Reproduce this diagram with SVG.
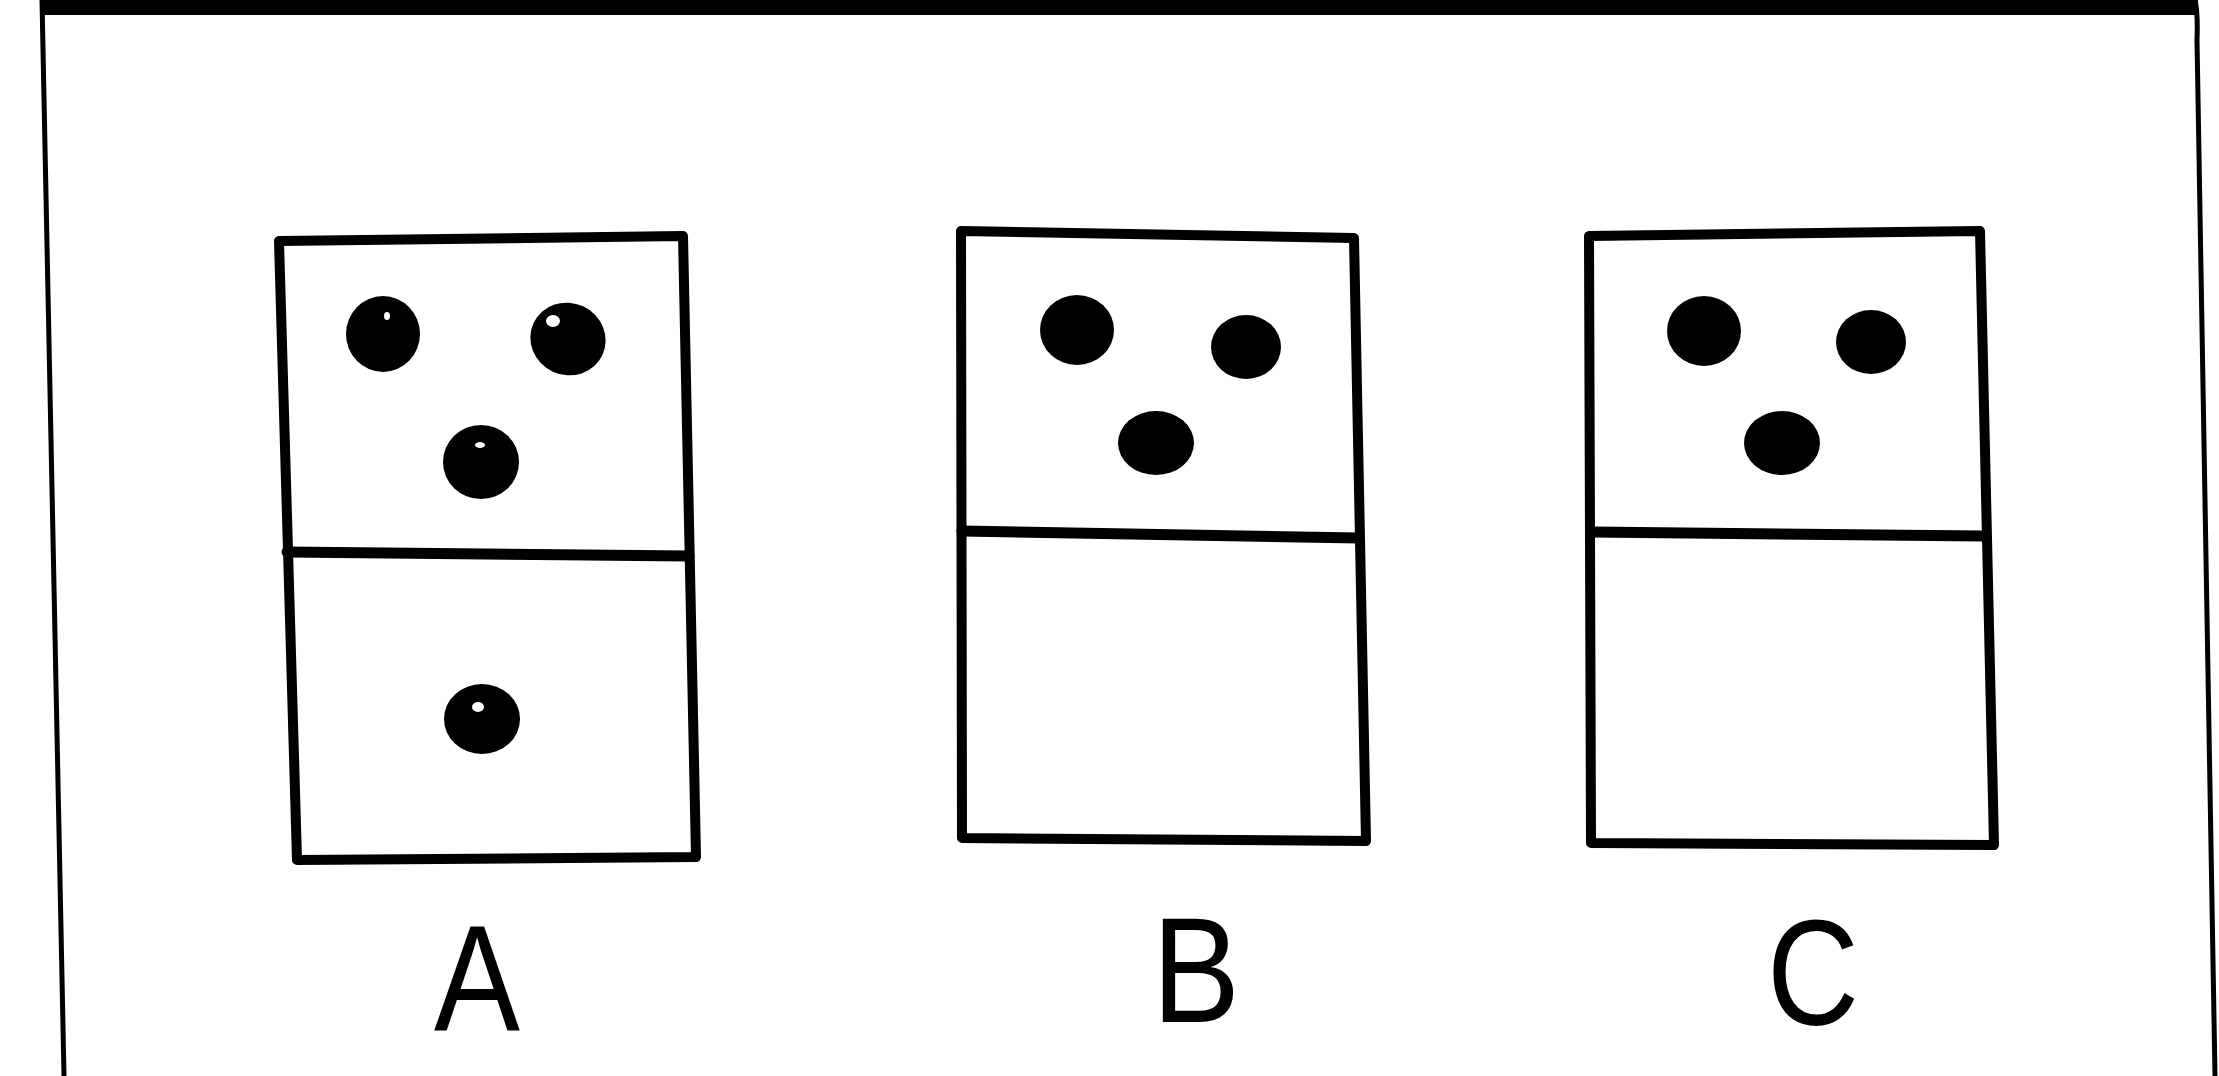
<svg xmlns="http://www.w3.org/2000/svg" width="2219" height="1076" viewBox="0 0 2219 1076">
<style>
.tile{fill:none;stroke:#000;stroke-width:10;stroke-linejoin:round;stroke-linecap:round}
.div{fill:none;stroke:#000;stroke-width:11;stroke-linecap:round}
.pip{fill:#000}
.spec{fill:#fff}
.frame{fill:none;stroke:#000;stroke-width:5}
.lbl{font-family:"Liberation Sans",Arial,sans-serif;font-size:150px;fill:#000;text-anchor:middle}
</style>
<rect x="0" y="0" width="2219" height="1076" fill="#fff"/>
<g id="frame">
<rect x="40" y="0" width="2158" height="15" fill="#000"/>
<path class="frame" d="M42,0 L64,1076"/>
<path class="frame" d="M2195,0 Q2198,12 2197,40 L2215,1076"/>
</g>
<g id="domino-A">
<path class="tile" d="M279,241 L683,236 L696,857 L297,860 Z"/>
<path class="div" d="M287,552 L689,556"/>
<ellipse class="pip" cx="383" cy="334" rx="37" ry="38"/>
<ellipse class="pip" cx="568" cy="339" rx="38" ry="36" transform="rotate(25 568 339)"/>
<ellipse class="pip" cx="481" cy="462" rx="38" ry="37"/>
<ellipse class="pip" cx="482" cy="719" rx="38" ry="35"/>
<ellipse class="spec" cx="387" cy="316" rx="3" ry="4"/>
<ellipse class="spec" cx="553" cy="321" rx="7" ry="6"/>
<ellipse class="spec" cx="480" cy="445" rx="5" ry="3"/>
<ellipse class="spec" cx="478" cy="707" rx="6" ry="5"/>
</g>
<g id="domino-B">
<path class="tile" d="M961,231 L1354,238 L1366,841 L962,838 Z"/>
<path class="div" d="M962,531 L1358,538"/>
<ellipse class="pip" cx="1077" cy="330" rx="37" ry="35"/>
<ellipse class="pip" cx="1246" cy="347" rx="35" ry="32"/>
<ellipse class="pip" cx="1156" cy="443" rx="38" ry="32"/>
</g>
<g id="domino-C">
<path class="tile" d="M1589,236 L1980,231 L1994,845 L1591,843 Z"/>
<path class="div" d="M1592,532 L1982,536"/>
<ellipse class="pip" cx="1704" cy="331" rx="37" ry="35"/>
<ellipse class="pip" cx="1871" cy="342" rx="35" ry="32"/>
<ellipse class="pip" cx="1782" cy="443" rx="38" ry="32"/>
</g>
<g id="connectors"/>
<g id="labels">
<text id="label-A" class="lbl" x="477" y="1030" textLength="86" lengthAdjust="spacingAndGlyphs">A</text>
<text id="label-B" class="lbl" x="1196" y="1022" textLength="88" lengthAdjust="spacingAndGlyphs">B</text>
<text id="label-C" class="lbl" x="1813" y="1025" textLength="92" lengthAdjust="spacingAndGlyphs">C</text>
</g>
</svg>
